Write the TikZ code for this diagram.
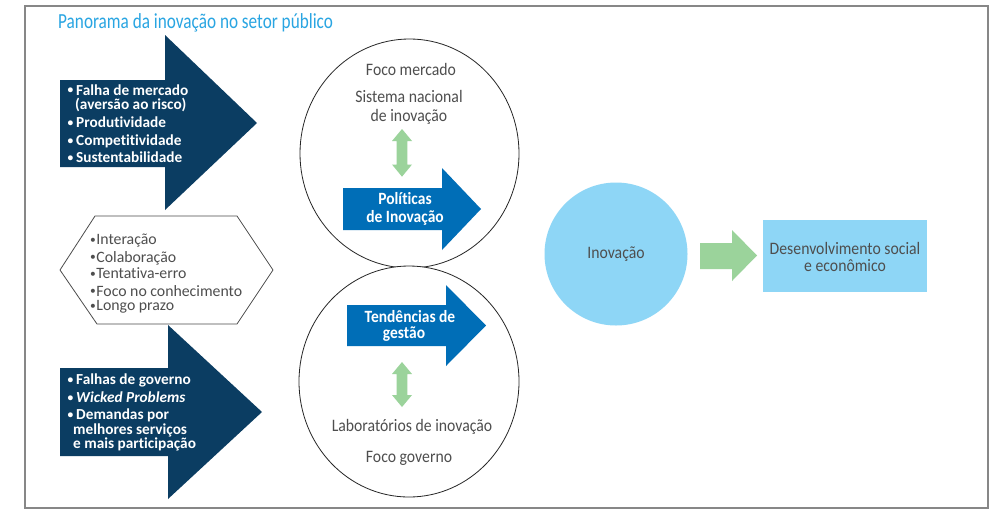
\documentclass[tikz,border=0pt]{standalone}
\usepackage{fontspec}
\setmainfont{Carlito}[Ligatures=NoCommon]
\newfontfamily\cf{Carlito}[FakeStretch=0.9,Ligatures=NoCommon]
\newfontfamily\titf{Carlito}[FakeStretch=0.8,Ligatures=NoCommon]
\definecolor{navy}{RGB}{11,61,98}
\definecolor{midblue}{RGB}{0,110,183}
\definecolor{lgreen}{RGB}{155,211,155}
\definecolor{lblue}{RGB}{142,214,246}
\definecolor{txtgray}{RGB}{78,78,78}
\definecolor{titblue}{RGB}{41,165,226}
\definecolor{framegray}{RGB}{135,135,135}
\newcommand{\smallbul}{\raisebox{1.3pt}{\fontsize{11.5}{11.5}\selectfont\textbullet}}
\newcommand{\bulA}{\makebox[9.5pt][l]{\hspace{1pt}\smallbul}}
\newcommand{\bulB}{\makebox[7.2pt][l]{\hspace{0.8pt}\smallbul}}
\tikzset{
  navytxt/.style={anchor=base west,inner sep=0pt,text=white,font=\fontsize{15.3}{15.3}\selectfont\bfseries},
  hextxt/.style={anchor=base west,inner sep=0pt,text=txtgray,font=\fontsize{15.8}{15.8}\selectfont},
  circtxt/.style={anchor=base,inner sep=0pt,text=txtgray,font=\cf\fontsize{17.5}{17.5}\selectfont},
  bluetxt/.style={anchor=base,inner sep=0pt,text=white,font=\cf\fontsize{17.2}{17.2}\selectfont\bfseries},
  navyarrow/.style={fill=navy,draw=none},
  bluearrow/.style={fill=midblue,draw=none},
  greenarrow/.style={fill=lgreen,draw=none},
  bigcircle/.style={draw=black!85,line width=0.8pt,fill=white},
}
\begin{document}
\begin{tikzpicture}[x=1pt,y=-1pt]
\useasboundingbox (0,0) rectangle (992,512);
\fill[white] (0,0) rectangle (992,512);
% frame
\draw[framegray,line width=2pt] (25,6) rectangle (988,508);
% title
\node[anchor=base west,inner sep=0pt,text=titblue,font=\titf\fontsize{21.5}{21.5}\selectfont] (title) at (58,28.7) {Panorama da inovação no setor público};

% top navy arrow
\path[navyarrow] (60,80) -- (165,80) -- (165,35) -- (257,123) -- (165,210) -- (165,167) -- (60,167) -- cycle;
\node[navytxt] (a1) at (66.5,95) {\bulA Falha de mercado};
\node[navytxt] (a2) at (75,109.5) {(aversão ao risco)};
\node[navytxt] (a3) at (66.5,127.3) {\bulA Produtividade};
\node[navytxt] (a4) at (66.5,145.7) {\bulA Competitividade};
\node[navytxt] (a5) at (66.5,162.7) {\bulA Sustentabilidade};

% hexagon
\draw[draw=black!70,line width=0.8pt,fill=white] (60,270) -- (95,216) -- (237,216) -- (273,270) -- (237,324) -- (97,324) -- cycle;
\node[hextxt] (h1) at (89,244.3) {\bulB Interação};
\node[hextxt] (h2) at (89,262) {\bulB Colaboração};
\node[hextxt] (h3) at (89,278.3) {\bulB Tentativa-erro};
\node[hextxt] (h4) at (89,296) {\bulB Foco no conhecimento};
\node[hextxt] (h5) at (89,310.5) {\bulB Longo prazo};

% bottom navy arrow
\path[navyarrow] (60,368) -- (168,368) -- (168,325) -- (262,412) -- (168,499) -- (168,456) -- (60,456) -- cycle;
\node[navytxt] (b1) at (66.5,384.3) {\bulA Falhas de governo};
\node[navytxt] (b2) at (66.5,402.3) {\bulA \itshape Wicked Problems};
\node[navytxt] (b3) at (66.5,419.5) {\bulA Demandas por};
\node[navytxt] (b4) at (73,434) {melhores serviços};
\node[navytxt] (b5) at (73,448.5) {e mais participação};

% circles
\draw[bigcircle] (409.5,153.5) ellipse [x radius=109.5pt, y radius=114.5pt];
\draw[bigcircle] (409,381.5) ellipse [x radius=110pt, y radius=115.5pt];

% top circle content
\node[circtxt] (fm) at (411,75.7) {Foco mercado};
\node[circtxt] (sn1) at (409,102.3) {Sistema nacional};
\node[circtxt] (sn2) at (409,121.3) {de inovação};
\path[greenarrow] (402,129) -- (412,141) -- (407.3,141) -- (407.3,164.5) -- (412,164.5) -- (402,176.7) -- (392,164.5) -- (396.7,164.5) -- (396.7,141) -- (392,141) -- cycle;
\path[bluearrow] (343,188) -- (442,188) -- (442,168) -- (481,209) -- (442,250) -- (442,230) -- (343,230) -- cycle;
\node[bluetxt] (pol1) at (405,204.5) {Políticas};
\node[bluetxt] (pol2) at (405,222.5) {de Inovação};

% bottom circle content
\path[bluearrow] (347,305) -- (446,305) -- (446,285) -- (486,325.5) -- (446,366) -- (446,346) -- (347,346) -- cycle;
\node[bluetxt] (tg1) at (410,322.5) {Tendências de};
\node[bluetxt] (tg2) at (404,338) {gestão};
\path[greenarrow] (402,362) -- (412,374) -- (407.3,374) -- (407.3,395) -- (412,395) -- (402,407) -- (392,395) -- (396.7,395) -- (396.7,374) -- (392,374) -- cycle;
\node[circtxt] (lab) at (412,431.7) {Laboratórios de inovação};
\node[circtxt] (fg) at (409,462.7) {Foco governo};

% right part
\node[circle,fill=lblue,minimum size=143pt,inner sep=0pt] (inov) at (616,254) {};
\node[circtxt] (inovt) at (616,258.3) {Inovação};
\path[greenarrow] (700,243) -- (732,243) -- (732,230) -- (757,255.5) -- (732,281) -- (732,269) -- (700,269) -- cycle;
\path[fill=lblue] (763,220) rectangle (927,292);
\node[circtxt] (d1) at (845,254) {Desenvolvimento social};
\node[circtxt] (d2) at (845,271.7) {e econômico};
\end{tikzpicture}
\end{document}
